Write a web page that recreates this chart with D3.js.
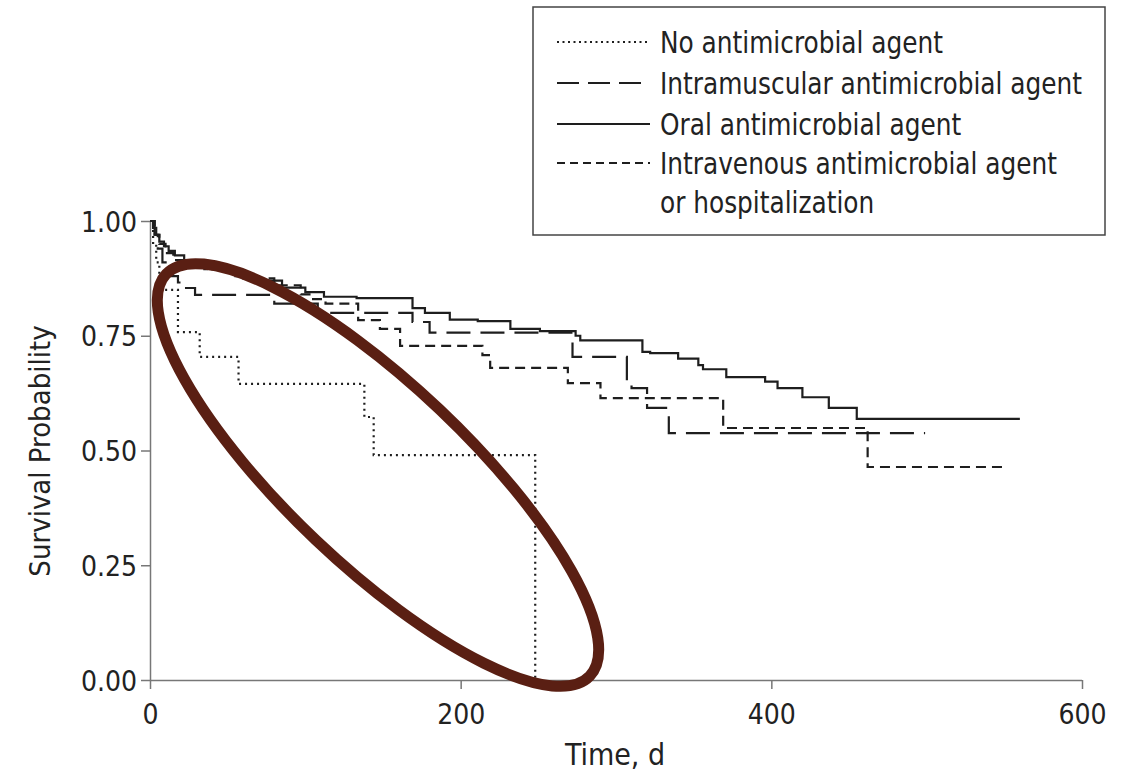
<!DOCTYPE html>
<html>
<head>
<meta charset="utf-8">
<script src="https://cdn.jsdelivr.net/npm/d3@7"></script>
<style>
  body { margin: 0; background: #fff; }
  text { font-family: "Liberation Sans Narrow", "DejaVu Sans Condensed", "Roboto", sans-serif; fill: #222; }
</style>
</head>
<body>
<svg width="1132" height="777"></svg>
<script>
// Kaplan-Meier steps (time in days, survival probability)
const noneT = [0, 2, 4, 6, 8, 18, 32, 57, 138, 144, 248]
const noneS = [1.0, 0.95, 0.91, 0.88, 0.85, 0.758, 0.704, 0.645, 0.573, 0.49, 0]

const imT = [0, 3, 5, 8, 12, 18, 20, 29, 80, 108, 169, 180, 272, 307, 310, 320, 334, 499]
const imS = [1.0, 0.97, 0.94, 0.91, 0.88, 0.866, 0.854, 0.839, 0.82, 0.80, 0.78, 0.757, 0.704, 0.65, 0.636, 0.593, 0.538, 0.538]

const oralT = [0, 2, 4, 6, 9, 12, 16, 22, 30, 40, 55, 70, 85, 100, 112, 133, 169, 177, 193, 211, 232, 251, 274, 277, 317, 322, 340, 353, 356, 371, 396, 404, 420, 437, 455, 560]
const oralS = [1.0, 0.985, 0.97, 0.955, 0.945, 0.935, 0.925, 0.915, 0.905, 0.895, 0.88, 0.87, 0.855, 0.845, 0.835, 0.832, 0.81, 0.80, 0.785, 0.782, 0.765, 0.76, 0.75, 0.74, 0.715, 0.712, 0.70, 0.686, 0.677, 0.66, 0.65, 0.636, 0.616, 0.593, 0.569, 0.569]

const ivT = [0, 3, 6, 10, 15, 25, 35, 47, 60, 80, 97, 105, 113, 134, 148, 161, 214, 219, 269, 290, 369, 462, 549]
const ivS = [1.0, 0.97, 0.95, 0.93, 0.915, 0.90, 0.895, 0.89, 0.875, 0.86, 0.84, 0.83, 0.82, 0.784, 0.765, 0.728, 0.708, 0.68, 0.647, 0.614, 0.549, 0.464, 0.464]

const xTicks = [0, 200, 400, 600]
const yTicks = [0, 0.25, 0.5, 0.75, 1.0]
const legendLabels = [["No antimicrobial agent"], ["Intramuscular antimicrobial agent"], ["Oral antimicrobial agent"], ["Intravenous antimicrobial agent", "or hospitalization"]]

const series = [
  { t: noneT, s: noneS, dash: "2,4" },
  { t: imT, s: imS, dash: "24,10" },
  { t: oralT, s: oralS, dash: null },
  { t: ivT, s: ivS, dash: "10,6" }
]

const svg = d3.select('svg')
const x = d3.scaleLinear().domain([0, 600]).range([150, 1082])
const y = d3.scaleLinear().domain([0, 1]).range([680, 221])

// axes
const xAxis = svg.append('g').attr('transform', 'translate(0,680)')
  .call(d3.axisBottom(x).tickValues(xTicks).tickSize(9).tickFormat(d3.format('d')))
const yAxis = svg.append('g').attr('transform', 'translate(150,0)')
  .call(d3.axisLeft(y).tickValues(yTicks).tickSize(9).tickFormat(d3.format('.2f')))
svg.selectAll('.domain').attr('stroke', '#777').attr('stroke-width', 1.5)
svg.selectAll('.tick line').attr('stroke', '#777').attr('stroke-width', 1.5)
svg.selectAll('.tick text').attr('font-size', 28).style('font-family', null).attr('fill', '#222')
xAxis.selectAll('.tick text').attr('dy', '1.15em')
yAxis.selectAll('.tick text').attr('x', -13).attr('dy', '0.36em')
// plain domain lines without the outer tick stubs
xAxis.select('.domain').attr('d', `M${x(0)},0.5H${x(600)}`)
yAxis.select('.domain').attr('d', `M0.5,${y(0)}V${y(1)}`)

svg.append('text').attr('x', 615).attr('y', 765).attr('text-anchor', 'middle')
  .attr('font-size', 30).text('Time, d')
svg.append('text').attr('transform', 'translate(50,451) rotate(-90)').attr('text-anchor', 'middle')
  .attr('font-size', 29).text('Survival Probability')

// survival curves
const line = d3.line().x(d => x(d[0])).y(d => y(d[1])).curve(d3.curveStepAfter)
series.forEach(sr => {
  const pts = sr.t.map((t, i) => [t, sr.s[i]])
  svg.append('path').attr('d', line(pts))
    .attr('fill', 'none').attr('stroke', '#1e1e1e').attr('stroke-width', 2.2)
    .attr('stroke-dasharray', sr.dash)
})

// legend
const lg = svg.append('g')
lg.append('rect').attr('x', 533).attr('y', 7).attr('width', 572).attr('height', 228)
  .attr('fill', '#fff').attr('stroke', '#444').attr('stroke-width', 1.5)
const rowY = [42, 83, 124, 163]
const legendDash = ["2,3.5", "22,9", null, "8,5"]
legendLabels.forEach((lab, i) => {
  lg.append('line').attr('x1', 557).attr('x2', 650).attr('y1', rowY[i]).attr('y2', rowY[i])
    .attr('stroke', '#1e1e1e').attr('stroke-width', 2.2).attr('stroke-dasharray', legendDash[i])
  lab.forEach((txt, j) => {
    lg.append('text')
      .attr('transform', `translate(660,${rowY[i] + j * 39}) scale(0.92,1)`)
      .attr('dy', '0.36em').attr('font-size', 30).text(txt)
  })
})

// hand-drawn highlight ellipse
svg.append('ellipse').attr('cx', 378).attr('cy', 475).attr('rx', 292).attr('ry', 90)
  .attr('transform', 'rotate(43.5,378,475)')
  .attr('fill', 'none').attr('stroke', '#5a1f13').attr('stroke-width', 11)
</script>
</body>
</html>
